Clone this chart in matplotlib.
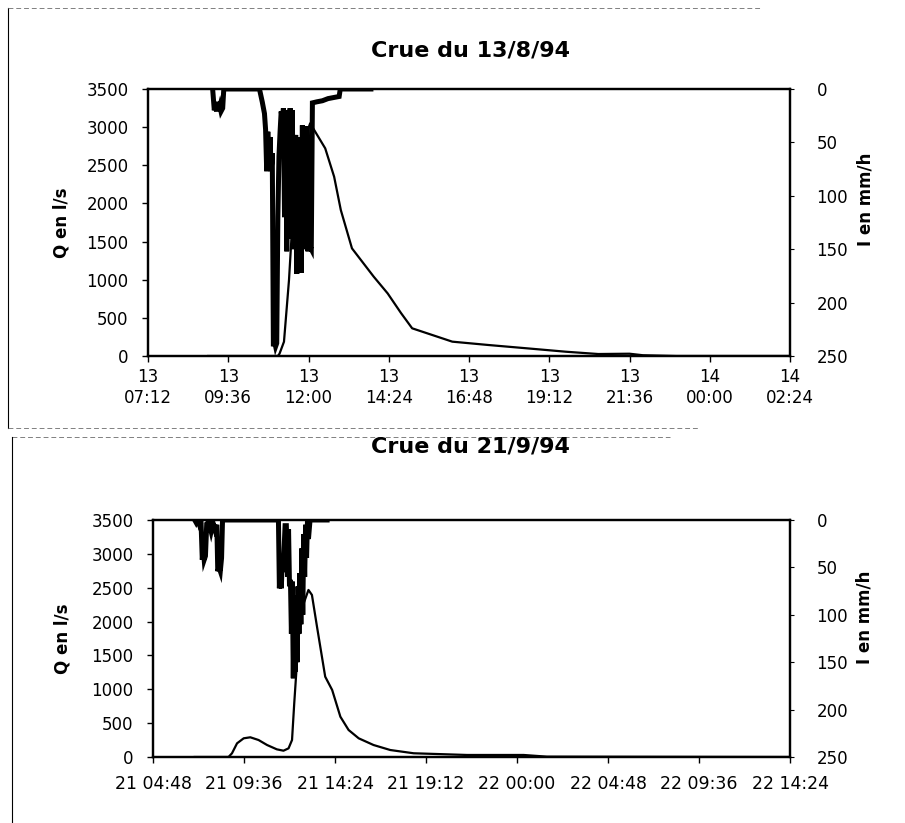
import matplotlib
matplotlib.use("Agg")
import matplotlib.pyplot as plt
from matplotlib.lines import Line2D

plt.rcParams['font.family'] = ['DejaVu Sans']

# ---------------- data: flood of 13/8/94 ----------------
top_title = "Crue du 13/8/94"
top_day0 = 13
top_q_times = ["13 09:00", "13 11:05", "13 11:08", "13 11:16", "13 11:25", "13 11:31", "13 11:37",
               "13 11:52", "13 12:03", "13 12:30", "13 12:46", "13 12:58", "13 13:18", "13 13:57",
               "13 14:22", "13 14:46", "13 15:06", "13 16:18", "13 17:23", "13 18:33", "13 19:42",
               "13 20:40", "13 21:36", "13 22:00", "13 23:00", "14 02:24"]
top_q_values = [0, 0, 30, 187, 996, 1739, 2306,
                2831, 3050, 2722, 2350, 1913, 1411, 1040,
                821, 563, 363, 188, 144, 100, 56,
                26, 30, 10, 0, 0]
top_i_times = ["13 09:08", "13 09:11", "13 09:13", "13 09:15", "13 09:17", "13 09:19", "13 09:21",
               "13 09:23", "13 09:26", "13 09:28", "13 10:32", "13 10:37", "13 10:41", "13 10:43",
               "13 10:45", "13 10:47", "13 10:49", "13 10:51", "13 10:53", "13 10:55", "13 10:57",
               "13 10:59", "13 11:01", "13 11:03", "13 11:05", "13 11:07", "13 11:09", "13 11:11",
               "13 11:13", "13 11:15", "13 11:17", "13 11:19", "13 11:21", "13 11:23", "13 11:25",
               "13 11:27", "13 11:29", "13 11:31", "13 11:33", "13 11:35", "13 11:37", "13 11:39",
               "13 11:41", "13 11:43", "13 11:45", "13 11:47", "13 11:49", "13 11:51", "13 11:53",
               "13 11:55", "13 11:57", "13 11:59", "13 12:01", "13 12:03", "13 12:05", "13 12:07",
               "13 12:15", "13 12:25", "13 12:35", "13 12:45", "13 12:55", "13 12:57", "13 13:52"]
top_i_values = [0, 20, 14, 21, 12, 20, 16,
                21, 18, 0, 0, 12, 23, 38,
                77, 40, 75, 45, 77, 60, 241,
                236, 241, 238, 120, 63, 40, 21,
                30, 18, 120, 20, 152, 25, 140,
                18, 100, 20, 150, 60, 43, 173,
                50, 170, 45, 172, 34, 150, 40,
                145, 35, 152, 45, 148, 150, 13,
                12, 11, 9, 8, 7, 0, 0]
top_xtick_labels = ["13\n07:12", "13\n09:36", "13\n12:00", "13\n14:24", "13\n16:48",
                    "13\n19:12", "13\n21:36", "14\n00:00", "14\n02:24"]

# ---------------- data: flood of 21/9/94 ----------------
bot_title = "Crue du 21/9/94"
bot_day0 = 21
bot_q_times = ["21 07:00", "21 08:47", "21 08:58", "21 09:14", "21 09:35", "21 09:56", "21 10:22",
               "21 10:49", "21 11:20", "21 11:41", "21 11:57", "21 12:08", "21 12:15", "21 12:22",
               "21 12:29", "21 12:45", "21 13:00", "21 13:11", "21 13:27", "21 13:53", "21 14:15",
               "21 14:41", "21 15:07", "21 15:39", "21 16:26", "21 17:19", "21 18:33", "21 21:22",
               "22 00:21", "22 01:35", "22 14:24"]
bot_q_values = [0, 0, 55, 202, 276, 291, 251,
                177, 113, 93, 128, 251, 793, 1285,
                1777, 2270, 2467, 2393, 1925, 1186, 990,
                595, 399, 276, 177, 103, 55, 30,
                30, 5, 0]
bot_i_times = ["21 07:00", "21 07:05", "21 07:10", "21 07:15", "21 07:20", "21 07:24", "21 07:27",
               "21 07:30", "21 07:34", "21 07:38", "21 07:45", "21 07:52", "21 07:58", "21 08:04",
               "21 08:10", "21 08:13", "21 08:17", "21 08:21", "21 08:25", "21 08:28", "21 11:25",
               "21 11:28", "21 11:31", "21 11:34", "21 11:37", "21 11:40", "21 11:43", "21 11:46",
               "21 11:50", "21 11:54", "21 11:57", "21 12:00", "21 12:03", "21 12:06", "21 12:09",
               "21 12:12", "21 12:15", "21 12:18", "21 12:21", "21 12:24", "21 12:27", "21 12:30",
               "21 12:33", "21 12:36", "21 12:39", "21 12:42", "21 12:45", "21 12:48", "21 12:51",
               "21 12:54", "21 12:57", "21 13:00", "21 13:05", "21 13:59"]
bot_i_values = [0, 3, 0, 5, 2, 42, 30,
                42, 38, 4, 2, 12, 3, 10,
                5, 54, 50, 54, 40, 0, 0,
                72, 40, 72, 45, 55, 30, 6,
                6, 60, 10, 70, 63, 120, 65,
                167, 80, 160, 90, 150, 70, 120,
                56, 110, 30, 100, 15, 60, 5,
                40, 0, 20, 0, 0]
bot_xtick_labels = ["21 04:48", "21 09:36", "21 14:24", "21 19:12",
                    "22 00:00", "22 04:48", "22 09:36", "22 14:24"]

q_ticks = [0, 500, 1000, 1500, 2000, 2500, 3000, 3500]
i_ticks = [0, 50, 100, 150, 200, 250]
q_label = "Q en l/s"
i_label = "I en mm/h"


def to_hours(s, day0):
    s = s.replace("\n", " ")
    d, hm = s.split(" ")
    h, m = hm.split(":")
    return (int(d) - day0) * 24 + int(h) + int(m) / 60.0


W, H = 905, 823
fig = plt.figure(figsize=(W / 100, H / 100), dpi=100)


def frac_rect(l, t, r, b):
    return [l / W, 1 - b / H, (r - l) / W, (b - t) / H]


def draw_panel(rect, title, day0, q_t, q_v, i_t, i_v, xlabels, title_y, xlab_pad,
               xlab_size, qlabel_x, ilabel_y):
    ax = fig.add_axes(rect)
    qx = [to_hours(s, day0) for s in q_t]
    ix = [to_hours(s, day0) for s in i_t]
    xt = [to_hours(s, day0) for s in xlabels]
    ax.plot(qx, q_v, color='black', lw=1.6, zorder=3, solid_joinstyle='round')
    ax.set_xlim(xt[0], xt[-1])
    ax.set_ylim(0, 3500)
    ax.set_yticks(q_ticks)
    ax.set_xticks(xt)
    ax.set_xticklabels(xlabels)
    ax.tick_params(axis='y', direction='out', length=4, width=1.0, pad=10, labelsize=12)
    ax.tick_params(axis='x', direction='out', length=4, width=1.0, pad=xlab_pad,
                   labelsize=xlab_size)
    ax.set_ylabel(q_label, fontsize=12, fontweight='bold')
    ax.yaxis.set_label_coords(qlabel_x, 0.5)
    for sp in ax.spines.values():
        sp.set_linewidth(1.6)
        sp.set_color('black')

    ax2 = ax.twinx()
    ax2.plot(ix, i_v, color='black', lw=3.6, zorder=4, solid_joinstyle='miter')
    ax2.set_ylim(250, 0)
    ax2.set_yticks(i_ticks)
    ax2.tick_params(axis='y', direction='out', length=3, width=0.8, pad=16, labelsize=12)
    ax2.set_ylabel(i_label, fontsize=12, fontweight='bold', rotation=90)
    ax2.yaxis.set_label_coords(1.103, ilabel_y)
    for sp in ax2.spines.values():
        sp.set_linewidth(1.6)
    fig.text(0.52, 1 - title_y / H, title, ha='center', va='center',
             fontsize=16, fontweight='bold')
    return ax


draw_panel(frac_rect(148, 89, 790, 356), top_title, top_day0, top_q_times, top_q_values,
           top_i_times, top_i_values, top_xtick_labels, 50, 5, 12, -0.12, 0.585)
draw_panel(frac_rect(153, 520, 790, 757), bot_title, bot_day0, bot_q_times, bot_q_values,
           bot_i_times, bot_i_values, bot_xtick_labels, 446, 9, 12.5, -0.128, 0.59)

# scanned chart-area borders
def fline(x0, y0, x1, y1, **kw):
    fig.add_artist(Line2D([x0 / W, x1 / W], [1 - y0 / H, 1 - y1 / H],
                          transform=fig.transFigure, **kw))

fline(8, 8, 8, 428, color='black', lw=0.8)
fline(8, 8, 760, 8, color='0.5', lw=0.7, ls=(0, (5, 3)))
fline(8, 428, 700, 428, color='0.5', lw=0.7, ls=(0, (5, 3)))
fline(12, 437, 670, 437, color='0.5', lw=0.7, ls=(0, (5, 3)))
fline(12, 437, 12, 823, color='black', lw=0.8)

fig.savefig("out.png", dpi=100)
